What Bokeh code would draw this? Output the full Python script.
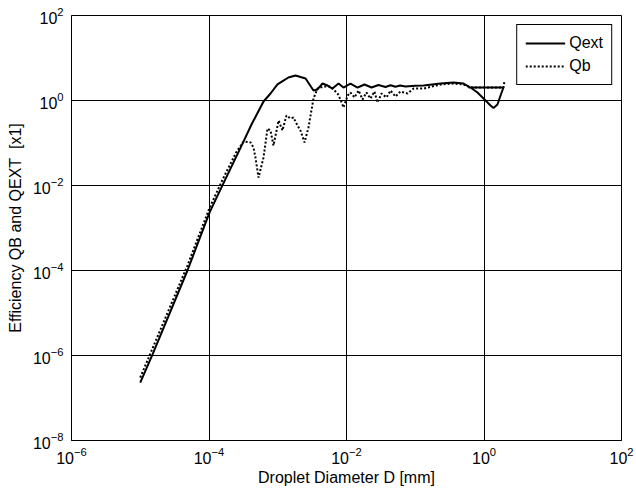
from bokeh.plotting import figure
from bokeh.models import Range1d, FixedTicker, LogTickFormatter
from bokeh.embed import file_html
from bokeh.resources import INLINE

# Droplet diameter D [mm] and extinction efficiency Qext
qext_d = [1.0e-5, 1.51e-5, 4.86e-5, 1.016e-4, 1.60e-4, 2.93e-4, 4.17e-4, 6.21e-4,
          7.85e-4, 9.91e-4, 1.21e-3, 1.43e-3, 1.81e-3, 2.54e-3, 3.31e-3, 3.78e-3, 4.48e-3,
          5.30e-3, 6.25e-3, 7.66e-3, 9.04e-3, 1.14e-2, 1.45e-2, 1.83e-2, 2.31e-2,
          2.92e-2, 3.69e-2, 4.37e-2, 5.16e-2, 6.03e-2, 7.21e-2, 0.1, 0.132, 0.233,
          0.360, 0.504, 0.637, 0.804, 0.984, 1.245, 1.374, 1.57, 1.74, 1.92, 0.596]
qext_q = [2.3e-7, 1.06e-6, 1.0e-4, 2.30e-3, 1.08e-2, 8.2e-2, 0.276, 0.946,
          1.46, 2.40, 2.95, 3.48, 3.87, 3.30, 1.72, 1.82, 2.51,
          2.25, 1.91, 2.51, 2.02, 2.51, 2.02, 2.38, 2.02,
          2.32, 2.08, 2.29, 2.10, 2.26, 2.13, 2.21, 2.25, 2.51,
          2.65, 2.51, 2.02, 1.54, 1.11, 0.762, 0.667, 0.805, 1.31, 2.02, 2.02]

# Droplet diameter D [mm] and backscatter efficiency Qb
qb_d = [1.0e-5, 4.86e-5, 1.016e-4, 1.60e-4, 2.51e-4, 3.18e-4, 4.02e-4, 4.44e-4,
        4.74e-4, 5.25e-4, 6.21e-4, 7.10e-4, 7.85e-4, 8.67e-4, 1.03e-3, 1.17e-3,
        1.34e-3, 1.53e-3, 1.69e-3, 1.94e-3, 2.14e-3, 2.45e-3, 2.80e-3, 3.31e-3,
        3.78e-3, 4.62e-3, 5.85e-3, 7.40e-3, 8.18e-3, 9.04e-3, 1.04e-2, 1.14e-2,
        1.31e-2, 1.50e-2, 1.71e-2, 1.95e-2, 2.23e-2, 2.55e-2, 2.82e-2, 3.23e-2,
        3.82e-2, 4.37e-2, 5.16e-2, 6.10e-2, 7.71e-2, 9.44e-2, 0.132, 0.233,
        0.360, 0.504, 0.637, 0.889, 1.47, 1.92, 1.99]
qb_q = [3.03e-7, 1.31e-4, 2.95e-3, 1.45e-2, 6.2e-2, 0.108, 0.103, 7.83e-2,
        4.56e-2, 1.54e-2, 4.56e-2, 0.219, 0.197, 8.73e-2, 0.338, 0.197,
        0.444, 0.377, 0.398, 0.258, 0.197, 0.103, 0.232, 1.11,
        1.91, 2.13, 2.13, 1.46, 1.06, 0.684, 1.31, 1.54,
        1.18, 1.72, 1.06, 1.54, 1.11, 1.63, 0.898, 1.46,
        1.18, 1.72, 1.24, 1.63, 1.46, 1.91, 1.91, 2.38,
        2.51, 2.38, 2.02, 2.02, 2.02, 2.02, 2.96]

x_ticks = [1e-6, 1e-4, 1e-2, 1e0, 1e2]
y_ticks = [1e-8, 1e-6, 1e-4, 1e-2, 1e0, 1e2]

FONT = "Liberation Sans"

p = figure(width=636, height=495, x_axis_type="log", y_axis_type="log",
           x_range=Range1d(1e-6, 1e2), y_range=Range1d(1e-8, 1e2),
           output_backend="svg", toolbar_location=None,
           min_border_left=71, min_border_right=15, min_border_top=15,
           min_border_bottom=55)

p.line(qext_d, qext_q, line_color="black", line_width=2, legend_label="Qext")
p.line(qb_d, qb_q, line_color="black", line_width=2, line_dash="2 2", legend_label="Qb")

p.xaxis.ticker = FixedTicker(ticks=x_ticks)
p.yaxis.ticker = FixedTicker(ticks=y_ticks)
p.xgrid.ticker = FixedTicker(ticks=x_ticks)
p.ygrid.ticker = FixedTicker(ticks=y_ticks)
p.xaxis.formatter = LogTickFormatter()
p.yaxis.formatter = LogTickFormatter()

p.xaxis.axis_label = "Droplet Diameter D [mm]"
p.yaxis.axis_label = "Efficiency QB and QEXT\u00a0 [x1]"

for ax in (p.xaxis, p.yaxis):
    ax.axis_line_color = "black"
    ax.major_tick_in = 0
    ax.major_tick_out = 0
    ax.minor_tick_line_color = None
    ax.major_label_text_font = FONT
    ax.major_label_text_font_size = "16px"
    ax.major_label_text_color = "black"
    ax.axis_label_text_font = FONT
    ax.axis_label_text_font_size = "16px"
    ax.axis_label_text_font_style = "normal"
    ax.axis_label_text_color = "black"

p.xaxis.major_label_standoff = 6
p.yaxis.major_label_standoff = 8
p.xaxis.axis_label_standoff = 2
p.yaxis.axis_label_standoff = 6

p.grid.grid_line_color = "black"
p.grid.grid_line_alpha = 1
p.grid.grid_line_width = 1

p.outline_line_color = "black"
p.outline_line_width = 1
p.outline_line_alpha = 1

p.legend.location = "top_right"
p.legend.margin = 9
p.legend.padding = 8
p.legend.spacing = 3
p.legend.glyph_width = 40
p.legend.glyph_height = 20
p.legend.label_standoff = 4
p.legend.label_text_font = FONT
p.legend.label_text_font_size = "16px"
p.legend.label_text_color = "black"
p.legend.border_line_color = "black"
p.legend.border_line_width = 1
p.legend.border_line_alpha = 1
p.legend.background_fill_alpha = 1

open("out.html", "w").write(file_html(p, INLINE))
